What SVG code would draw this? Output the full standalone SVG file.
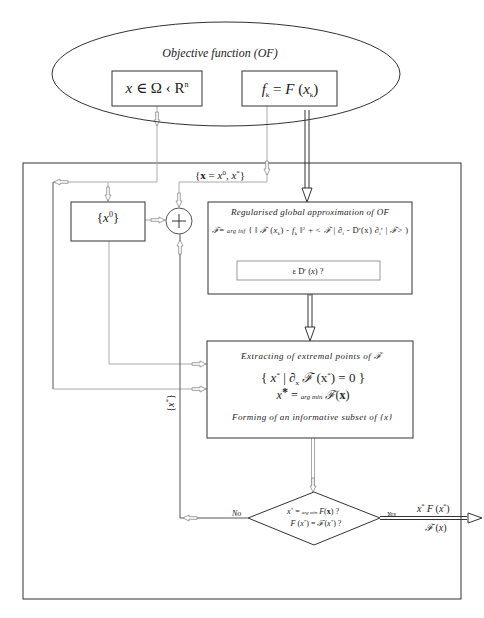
<svg xmlns="http://www.w3.org/2000/svg" xmlns:xlink="http://www.w3.org/1999/xlink" width="484" height="618" viewBox="0 0 484 618">
<style>
.k{stroke:#333;fill:none;stroke-width:1}
.g{stroke:#aaa;fill:none;stroke-width:1}
.d{stroke:#555;fill:none;stroke-width:1}
.box{fill:#fff;stroke:#333;stroke-width:1}
.gbox{fill:#fff;stroke:#999;stroke-width:1}
.t{font-family:"Liberation Serif","DejaVu Serif",serif;fill:#222}
.i{font-style:italic}
.sa{fill:#fff;stroke:#888;stroke-width:0.8}
.ba{fill:#fff;stroke:#333;stroke-width:1}
</style>
<defs>
<path id="sa" class="sa" d="M-14,-1.3 L-6,-1.3 L-6,-3 L0,0 L-6,3 L-6,1.3 L-14,1.3 Z"/>
<path id="ba" class="ba" d="M-14,-5 L0,0 L-14,5 Z"/>
</defs>
<rect width="484" height="618" fill="#fff"/>

<g id="frame"><rect x="23" y="163" width="438" height="436" class="k"/></g>

<g id="connectors">
<polyline class="g" points="157,106 157,182 53,182"/>
<polyline class="d" points="53,182 53,389"/>
<polyline class="g" points="53,389 207,389"/>
<polyline class="g" points="108,182 108,202"/>
<polyline class="g" points="145,220 166,220"/>
<polyline class="g" points="109,241 109,364 207,364"/>
<polyline class="g" points="267,106 267,182 179,182 179,208"/>
<line class="k" x1="305" y1="110" x2="305" y2="189"/>
<line class="k" x1="309" y1="110" x2="309" y2="189"/>
<polyline class="g" points="310,243 310,255"/>
<polyline class="k" points="310,255 227,255"/>
<polyline class="g" points="227,255 227,285 310,285 310,294"/>
<line class="k" x1="308" y1="294" x2="308" y2="328"/>
<line class="k" x1="312" y1="294" x2="312" y2="328"/>
<line class="g" x1="311.5" y1="438" x2="311.5" y2="486"/>
<line class="g" x1="314.5" y1="438" x2="314.5" y2="486"/>
<polyline class="d" points="180,234 180,518 248,518"/>
<line class="k" x1="380" y1="516.5" x2="467" y2="516.5"/>
<line class="k" x1="380" y1="519.5" x2="467" y2="519.5"/>
<use xlink:href="#sa" transform="translate(157,126) rotate(90)"/>
<use xlink:href="#sa" transform="translate(54,182) rotate(180)"/>
<use xlink:href="#sa" transform="translate(108,201) rotate(90)"/>
<use xlink:href="#sa" transform="translate(165,220)"/>
<use xlink:href="#sa" transform="translate(179,207) rotate(90)"/>
<use xlink:href="#sa" transform="translate(180,240) rotate(-90)"/>
<use xlink:href="#sa" transform="translate(267,175) rotate(90)"/>
<use xlink:href="#ba" transform="translate(307,202) rotate(90)"/>
<use xlink:href="#sa" transform="translate(310,258) rotate(90)"/>
<use xlink:href="#sa" transform="translate(227,258) rotate(-90)"/>
<use xlink:href="#sa" transform="translate(310,296) rotate(90)"/>
<use xlink:href="#ba" transform="translate(310,341) rotate(90)"/>
<use xlink:href="#sa" transform="translate(206,364)"/>
<use xlink:href="#sa" transform="translate(206,389)"/>
<use xlink:href="#sa" transform="translate(313,492) rotate(90)"/>
<use xlink:href="#sa" transform="translate(183,518) rotate(180)"/>
<use xlink:href="#ba" transform="translate(482,518)"/>
<text class="t" x="195" y="179" font-size="11">{<tspan font-weight="bold">x</tspan> = <tspan class="i">x</tspan><tspan font-size="7" dy="-4">0</tspan><tspan dy="4">, </tspan><tspan class="i">x</tspan><tspan font-size="7" dy="-4">*</tspan><tspan dy="4">}</tspan></text>
<text class="t" transform="translate(174,403) rotate(-90)" text-anchor="middle" font-size="10">{<tspan class="i">x</tspan><tspan font-size="7" dy="-4">*</tspan><tspan dy="4">}</tspan></text>
<text class="t i" x="232" y="516" font-size="8">No</text>
<text class="t i" x="387" y="516" font-size="7">Yes</text>
<text class="t" x="417" y="512" font-size="10"><tspan class="i">x</tspan><tspan font-size="6" dy="-4">*</tspan><tspan dy="4">   </tspan><tspan class="i">F</tspan> (<tspan class="i">x</tspan><tspan font-size="6" dy="-4">*</tspan><tspan dy="4">)</tspan></text>
<text class="t" x="425" y="531" font-size="10"><tspan class="i">ℱ</tspan> (<tspan class="i">x</tspan>)</text>
</g>

<g id="objective">
<ellipse cx="226" cy="74" rx="174" ry="52" class="k" fill="#fff"/>
<text class="t i" x="220" y="57" font-size="12" text-anchor="middle">Objective function (OF)</text>
</g>
<g id="domain">
<rect x="112" y="71" width="90" height="35" class="box"/>
<text class="t" x="157" y="93" font-size="15" text-anchor="middle"><tspan class="i">x</tspan> ∈  Ω ‹ R<tspan font-size="8" dy="-6">n</tspan></text>
</g>
<g id="fvalues">
<rect x="242" y="71" width="95" height="35" class="box"/>
<text class="t" x="290" y="94" font-size="15" text-anchor="middle"><tspan class="i">f</tspan><tspan font-size="7" dy="3">k</tspan><tspan dy="-3">  =  </tspan><tspan class="i">F</tspan> (<tspan class="i">x</tspan><tspan font-size="7" dy="3">k</tspan><tspan dy="-3">)</tspan></text>
</g>

<g id="x0">
<rect x="71" y="202" width="74" height="39" class="box"/>
<text class="t" x="108" y="222" font-size="13" text-anchor="middle">{<tspan class="i">x</tspan><tspan font-size="8" dy="-5">0</tspan><tspan dy="5">}</tspan></text>
</g>

<g id="sum">
<ellipse cx="179" cy="221" rx="13" ry="13" fill="#fff" stroke="#555"/>
<path d="M172,221 H186 M179,214 V228" stroke="#333" stroke-width="1"/>
</g>

<g id="approx">
<rect x="208" y="202" width="204" height="92" class="box"/>
<text class="t i" x="310" y="215" font-size="9" text-anchor="middle" textLength="158" lengthAdjust="spacing">Regularised  global  approximation  of  OF</text>
<text class="t" x="212" y="233" font-size="8.5" textLength="196" lengthAdjust="spacing"><tspan class="i">ℱ</tspan>= <tspan class="i" font-size="6">arg inf</tspan> { ‖ <tspan class="i">ℱ</tspan> (<tspan class="i">x</tspan><tspan font-size="5" dy="2">k</tspan><tspan dy="-2">) - </tspan><tspan class="i">f</tspan><tspan font-size="5" dy="2">k</tspan><tspan dy="-2"> ‖</tspan><tspan font-size="5" dy="-3">2</tspan><tspan dy="3"> + &lt; </tspan><tspan class="i">ℱ</tspan> | ∂<tspan font-size="5" dy="2">i</tspan><tspan dy="-2"> - D</tspan><tspan font-size="5" dy="-3">r</tspan><tspan dy="3">(x) ∂</tspan><tspan font-size="5" dy="2">i</tspan><tspan font-size="5" dy="-5">r</tspan><tspan dy="3"> | </tspan><tspan class="i">ℱ</tspan>&gt; )</text>
</g>
<g id="regularity">
<rect x="237" y="261" width="143" height="19" class="gbox"/>
<text class="t" x="308" y="274" font-size="8.5" text-anchor="middle">ε D<tspan font-size="5" dy="-3">r</tspan><tspan dy="3"> (</tspan><tspan class="i">x</tspan>) ?</text>
</g>

<g id="extract">
<rect x="207" y="341" width="206" height="97" class="box"/>
<text class="t i" x="311" y="359" font-size="9" text-anchor="middle" textLength="140" lengthAdjust="spacing">Extracting  of  extremal  points  of  ℱ</text>
<text class="t" x="313" y="382" font-size="13" text-anchor="middle">{ <tspan class="i">x</tspan><tspan font-size="7" dy="-5">*</tspan><tspan dy="5">  |  ∂</tspan><tspan font-size="7" dy="3">x</tspan><tspan dy="-3"> </tspan><tspan class="i">ℱ</tspan> (x<tspan font-size="7" dy="-5">*</tspan><tspan dy="5">) = 0 }</tspan></text>
<text class="t" x="313" y="399" font-size="12" text-anchor="middle"><tspan class="i">x</tspan><tspan font-weight="bold" dy="-3">*</tspan><tspan dy="3"> = </tspan><tspan class="i" font-size="7">arg min</tspan> <tspan class="i">ℱ</tspan>(<tspan font-weight="bold">x</tspan>)</text>
<text class="t i" x="312" y="420" font-size="9" text-anchor="middle" textLength="160" lengthAdjust="spacing">Forming  of  an  informative  subset  of  {x}</text>
</g>

<g id="decision">
<polygon points="248,518 314,492 380,518 314,545" fill="#fff" stroke="#333"/>
<text class="t" x="313" y="514" font-size="8" text-anchor="middle"><tspan class="i">x</tspan><tspan font-size="5" dy="-3">*</tspan><tspan dy="3"> = </tspan><tspan class="i" font-size="5">arg min</tspan> <tspan class="i">F</tspan>(<tspan font-weight="bold">x</tspan>) ?</text>
<text class="t" x="316" y="526" font-size="8" text-anchor="middle"><tspan class="i">F</tspan> (<tspan class="i">x</tspan><tspan font-size="5" dy="-3">*</tspan><tspan dy="3">)  =  </tspan><tspan class="i">ℱ</tspan>(<tspan class="i">x</tspan><tspan font-size="5" dy="-3">*</tspan><tspan dy="3">) ?</tspan></text>
</g>
</svg>
